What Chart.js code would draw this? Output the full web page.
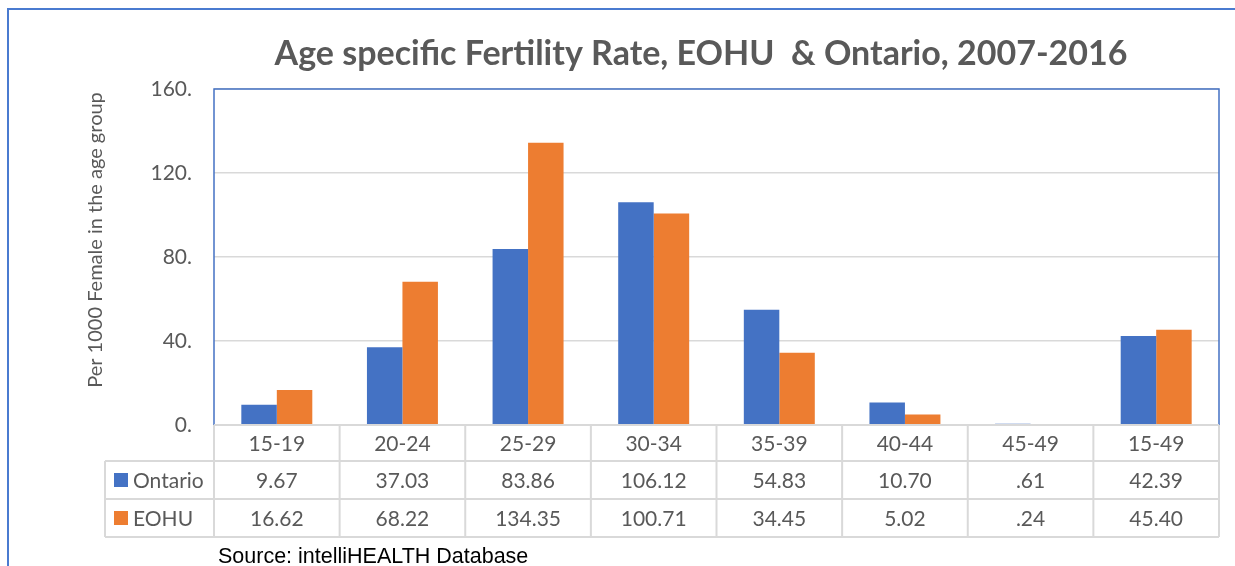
<!DOCTYPE html>
<html>
<head>
<meta charset="utf-8">
<title>Age specific Fertility Rate</title>
<script src="https://cdn.jsdelivr.net/npm/chart.js@4/dist/chart.umd.min.js"></script>
<style>
  body { margin: 0; background: #fff; }
  canvas { display: block; }
</style>
</head>
<body>
<canvas id="fertChart" width="1235" height="566"></canvas>
<script>
// Dados do gráfico
const categories = ["15-19", "20-24", "25-29", "30-34", "35-39", "40-44", "45-49", "15-49"];
const ontario = [9.67, 37.03, 83.86, 106.12, 54.83, 10.7, 0.61, 42.39];
const eohu = [16.62, 68.22, 134.35, 100.71, 34.45, 5.02, 0.24, 45.4];
const seriesNames = ["Ontario", "EOHU"];
const yTicks = [0, 40, 80, 120, 160];

const chartTitle = "Age specific Fertility Rate, EOHU  & Ontario, 2007-2016";
const yTitle = "Per 1000 Female in the age group";
const sourceNote = "Source: intelliHEALTH Database";

const BLUE = "#4472C4";
const ORANGE = "#ED7D31";
const TEXT = "#595959";
const GRID = "#d9d9d9";
const FONT = "Lato, 'Open Sans', sans-serif";

// formato das células da tabela: 2 casas, sem o zero à esquerda (".61")
function fmt(v) {
  return v.toFixed(2).replace(/^0\./, ".");
}

// Moldura, título e tabela de dados desenhados à volta do gráfico
const decorPlugin = {
  id: "decor",
  beforeDraw(chart) {
    const ctx = chart.ctx;
    ctx.save();
    ctx.fillStyle = "#fff";
    ctx.fillRect(0, 0, chart.width, chart.height);
    // moldura exterior
    ctx.strokeStyle = "#4a7bd0";
    ctx.lineWidth = 2;
    ctx.beginPath();
    ctx.moveTo(1235, 9);
    ctx.lineTo(8, 9);
    ctx.lineTo(8, 566);
    ctx.stroke();
    ctx.restore();
  },
  afterDraw(chart) {
    const ctx = chart.ctx;
    const area = chart.chartArea;
    const x = chart.scales.x;
    const colW = (area.right - area.left) / categories.length;
    const rows = [area.bottom, area.bottom + 36, area.bottom + 74, area.bottom + 112];
    const legendLeft = 105;

    ctx.save();

    // título
    ctx.fillStyle = TEXT;
    ctx.font = "bold 34px " + FONT;
    ctx.textAlign = "center";
    ctx.textBaseline = "alphabetic";
    ctx.fillText(chartTitle, 701, 65);

    // título do eixo Y
    ctx.save();
    ctx.translate(96, 240);
    ctx.rotate(-Math.PI / 2);
    ctx.font = "20px " + FONT;
    ctx.textBaseline = "middle";
    ctx.fillText(yTitle, 0, 0);
    ctx.restore();

    // borda azul da área do gráfico
    ctx.strokeStyle = BLUE;
    ctx.lineWidth = 1.5;
    ctx.beginPath();
    ctx.moveTo(area.left, area.bottom);
    ctx.lineTo(area.left, area.top);
    ctx.lineTo(area.right, area.top);
    ctx.lineTo(area.right, area.bottom);
    ctx.stroke();

    // grelha da tabela
    ctx.strokeStyle = GRID;
    ctx.lineWidth = 2;
    ctx.beginPath();
    ctx.moveTo(area.left, rows[0]);
    ctx.lineTo(area.right, rows[0]);
    for (let r = 1; r < rows.length; r++) {
      ctx.moveTo(legendLeft, rows[r]);
      ctx.lineTo(area.right, rows[r]);
    }
    for (let i = 0; i <= categories.length; i++) {
      const cx = area.left + i * colW;
      ctx.moveTo(cx, rows[0]);
      ctx.lineTo(cx, rows[3]);
    }
    ctx.moveTo(legendLeft, rows[1]);
    ctx.lineTo(legendLeft, rows[3]);
    ctx.stroke();

    // textos da tabela
    ctx.fillStyle = TEXT;
    ctx.font = "21px " + FONT;
    ctx.textAlign = "center";
    ctx.textBaseline = "middle";
    const series = [ontario, eohu];
    categories.forEach((c, i) => {
      const cx = x.getPixelForValue(i);
      ctx.fillText(c, cx, (rows[0] + rows[1]) / 2 + 1);
      series.forEach((s, k) => {
        ctx.fillText(fmt(s[i]), cx, (rows[k + 1] + rows[k + 2]) / 2 + 1);
      });
    });

    // legenda dentro da tabela
    const colors = [BLUE, ORANGE];
    seriesNames.forEach((name, k) => {
      const cy = (rows[k + 1] + rows[k + 2]) / 2;
      ctx.fillStyle = colors[k];
      ctx.fillRect(114, cy - 7, 14, 14);
      ctx.fillStyle = TEXT;
      ctx.textAlign = "left";
      ctx.fillText(name, 133, cy + 1);
    });

    // fonte dos dados
    ctx.fillStyle = "#000";
    ctx.font = "21.5px 'Liberation Sans', Arial, sans-serif";
    ctx.textAlign = "left";
    ctx.textBaseline = "alphabetic";
    ctx.fillText(sourceNote, 218, 563);

    ctx.restore();
  },
};

const ctx = document.getElementById("fertChart").getContext("2d");
const fertChart = new Chart(ctx, {
  type: "bar",
  data: {
    labels: categories,
    datasets: [
      {
        label: seriesNames[0],
        data: ontario,
        backgroundColor: BLUE,
        barPercentage: 1,
        categoryPercentage: 0.565,
      },
      {
        label: seriesNames[1],
        data: eohu,
        backgroundColor: ORANGE,
        barPercentage: 1,
        categoryPercentage: 0.565,
      },
    ],
  },
  options: {
    responsive: false,
    devicePixelRatio: 1,
    animation: false,
    layout: {
      padding: { left: 0, top: 89, right: 16, bottom: 141 },
    },
    plugins: {
      legend: { display: false },
      title: { display: false },
      tooltip: { enabled: false },
    },
    scales: {
      x: {
        display: false,
      },
      y: {
        min: 0,
        max: 160,
        afterFit: (scale) => {
          scale.width = 214; // largura fixa para alinhar com a tabela
        },
        afterBuildTicks: (scale) => {
          scale.ticks = yTicks.map((v) => ({ value: v }));
        },
        ticks: {
          color: TEXT,
          font: { family: FONT, size: 21 },
          padding: 22,
          callback: (v) => v + ".",
        },
        grid: {
          color: GRID,
          lineWidth: 1.5,
          drawTicks: false,
        },
        border: { display: false },
      },
    },
  },
  plugins: [decorPlugin],
});
</script>
</body>
</html>
